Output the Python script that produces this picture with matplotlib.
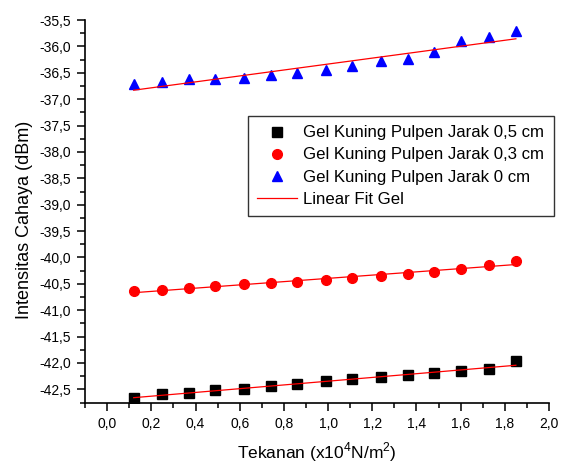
import numpy as np
import matplotlib
matplotlib.use("Agg")
import matplotlib.pyplot as plt
from matplotlib.ticker import MultipleLocator, FuncFormatter

plt.rcParams['font.family'] = ['Liberation Sans', 'DejaVu Sans']
plt.rcParams['mathtext.fontset'] = 'custom'
plt.rcParams['mathtext.rm'] = 'Liberation Sans'

tekanan = [0.12, 0.25, 0.37, 0.49, 0.62, 0.74, 0.86, 0.99, 1.11, 1.24, 1.36, 1.48, 1.60, 1.73, 1.85]
jarak_05 = [-42.67, -42.58, -42.56, -42.52, -42.50, -42.43, -42.40, -42.35, -42.31, -42.27,
            -42.22, -42.19, -42.15, -42.12, -41.97]
jarak_03 = [-40.64, -40.61, -40.58, -40.54, -40.51, -40.49, -40.46, -40.42, -40.39, -40.36,
            -40.31, -40.27, -40.21, -40.15, -40.06]
jarak_0 = [-36.71, -36.68, -36.62, -36.61, -36.59, -36.54, -36.50, -36.45, -36.38, -36.27,
           -36.23, -36.10, -35.90, -35.83, -35.71]

labels = ["Gel Kuning Pulpen Jarak 0,5 cm", "Gel Kuning Pulpen Jarak 0,3 cm",
          "Gel Kuning Pulpen Jarak 0 cm", "Linear Fit Gel"]

fig = plt.figure(figsize=(5.71, 4.66), dpi=100)
ax = fig.add_axes([0.149, 0.135, 0.8125, 0.822])

x = np.array(tekanan)
h1, = ax.plot(x, jarak_05, linestyle='none', marker='s', color='black', markersize=6.5)
h2, = ax.plot(x, jarak_03, linestyle='none', marker='o', color='red', markersize=7)
h3, = ax.plot(x, jarak_0, linestyle='none', marker='^', color='blue', markersize=7.5)
fit_handle = None
for ys in (jarak_05, jarak_03, jarak_0):
    m, b = np.polyfit(x, ys, 1)
    fit_handle, = ax.plot([x[0], x[-1]], [m * x[0] + b, m * x[-1] + b], color='red', lw=0.9)

ax.set_xlim(-0.1, 2.0)
ax.set_ylim(-42.76, -35.5)
for s in ('top', 'right'):
    ax.spines[s].set_visible(False)
for s in ('left', 'bottom'):
    ax.spines[s].set_linewidth(1.2)

ax.xaxis.set_major_locator(MultipleLocator(0.2))
ax.xaxis.set_minor_locator(MultipleLocator(0.1))
ax.yaxis.set_major_locator(MultipleLocator(0.5))
ax.yaxis.set_minor_locator(MultipleLocator(0.25))
fmt = FuncFormatter(lambda v, p: f"{v:.1f}".replace('.', ',').replace('\u2212', '-'))
ax.xaxis.set_major_formatter(fmt)
ax.yaxis.set_major_formatter(fmt)
ax.tick_params(which='major', length=6, width=1.1, labelsize=10, direction='out', pad=4)
ax.tick_params(which='minor', length=3.5, width=1.1, direction='out')

ax.set_xlabel(r"Tekanan (x10$^{4}$N/m$^{2}$)", fontsize=12.5)
ax.xaxis.set_label_coords(0.5, -0.097)
ax.xaxis.label.set_va('top')
ax.set_ylabel("Intensitas Cahaya (dBm)", fontsize=13)
ax.yaxis.set_label_coords(-0.112, 0.479)

leg = ax.legend([h1, h2, h3, fit_handle], labels, loc='upper left',
                bbox_to_anchor=(0.351, 0.749), fontsize=12.1, frameon=True, fancybox=False,
                borderpad=0.55, handlelength=2.4, handletextpad=0.35, labelspacing=0.42,
                borderaxespad=0)
leg.get_frame().set_edgecolor('black')
leg.get_frame().set_linewidth(1.0)

fig.savefig("out.png", dpi=100)
